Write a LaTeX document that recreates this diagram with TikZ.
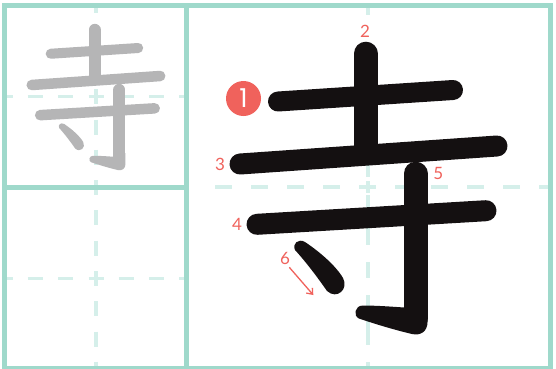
\documentclass[tikz,border=0pt]{standalone}
\usepackage{fontspec}
\newfontfamily\lblfont{Lato}
\newfontfamily\circfont{Poppins}
\usetikzlibrary{arrows.meta}
\definecolor{gridteal}{HTML}{9FD9CB}
\definecolor{dashteal}{HTML}{D5EFEA}
\definecolor{inkblack}{HTML}{141011}
\definecolor{inkgrey}{HTML}{B5B5B6}
\definecolor{numred}{HTML}{F0625C}
\newcommand\kanjiJi[1]{%
  \begin{scope}[draw=#1, fill=#1, line cap=round]
    \draw[line width=20pt] (278,101.5) -- (453,90);
    \draw[line width=24pt] (365.7,53.7) -- (365.7,150);
    \draw[line width=21pt] (240,164) -- (497,146);
    \draw[line width=21pt] (257,224.3) -- (486,210.7);
    \draw[line width=24pt] (415.5,173.7) -- (415.5,318);
    \fill (404,307.5) .. controls (390,306.5) and (375,305.5) .. (363,305.5)
      .. controls (354.5,305.5) and (353,316) .. (359,318.5)
      .. controls (375,324) and (395,330) .. (412,334)
      .. controls (421,336) and (427.5,331) .. (427.5,322)
      -- (427.5,300) -- (404,300) -- cycle;
    \fill (295,250) .. controls (292,244) and (298,238) .. (305,242)
      .. controls (320,252) and (336,266) .. (343,278)
      .. controls (349,289) and (337,300) .. (327,291)
      .. controls (318,278) and (306,262) .. (295,250) -- cycle;
  \end{scope}}
\begin{document}
\begin{tikzpicture}[x=1pt, y=-1pt,
  gridline/.style={draw=gridteal, line width=5pt},
  dashsmall/.style={draw=dashteal, line width=3.3pt, dash pattern=on 15pt off 15.3pt},
  dashbig/.style={draw=dashteal, line width=4.2pt},
  num/.style={text=numred, font=\lblfont\fontsize{17pt}{17pt}\selectfont, inner sep=0pt},
  redarrow/.style={draw=numred, line width=1.3pt, -{Straight Barb[length=5pt,width=8pt]}}]
\useasboundingbox (0,0) rectangle (556,368);
\fill[white] (0,0) rectangle (556,368);
% guide dashes
\begin{scope}
  \clip (4.5,5.5) rectangle (550.5,368);
  \draw[dashsmall] (-2.4,96.7) -- (186,96.7);
  \draw[dashsmall] (-2.4,278.3) -- (186,278.3);
  \draw[dashsmall] (96,-1.7) -- (96,370);
  \draw[dashbig, dash pattern=on 17pt off 19pt] (215,187) -- (552,187);
  \draw[dashbig] (368.3,8) -- (368.3,15);
  \draw[dashbig] (368.3,157) -- (368.3,177);
  \draw[dashbig] (368.3,181) -- (368.3,193);
  \draw[dashbig] (368.3,195) -- (368.3,245);
  \draw[dashbig] (368.3,262) -- (368.3,278);
  \draw[dashbig] (368.3,295) -- (368.3,345);
  \draw[dashbig] (368.3,362) -- (368.3,368);
\end{scope}
% frame
\draw[gridline] (4.5,5.5) rectangle (550.5,368.5);
\draw[gridline] (186.3,5.5) -- (186.3,368.5);
\draw[gridline] (4.5,187.5) -- (186.3,187.5);
% grey model character
\begin{scope}[transform canvas={shift={(-88.3pt,-3pt)}, scale=0.5}]
  \kanjiJi{inkgrey}
\end{scope}
% black character
\kanjiJi{inkblack}
% stroke numbers
\node[circle, fill=numred, minimum size=35pt, inner sep=0pt, text=white,
      font=\circfont\fontsize{26pt}{26pt}\selectfont] (n1) at (243.5,98.5) {1};
\node[num] (n2) at (365,31) {2};
\node[num] (n3) at (220,164) {3};
\node[num] (n4) at (237,224) {4};
\node[num] (n5) at (438.3,173.3) {5};
\node[num] (n6) at (285,258.3) {6};
\coordinate (s6) at (289.3,267.3);
\coordinate (e6) at (313.3,295);
\draw[redarrow] (s6) -- (e6);
\end{tikzpicture}
\end{document}
